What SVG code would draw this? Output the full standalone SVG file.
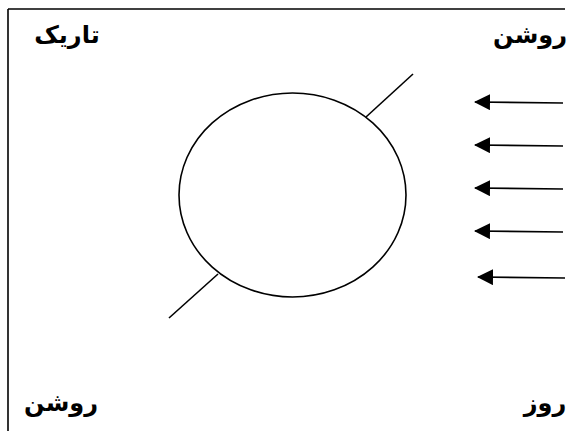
<svg xmlns="http://www.w3.org/2000/svg" width="572" height="431" viewBox="0 0 572 431">
<style>
.lbl{font-family:"DejaVu Sans","Noto Sans",sans-serif;font-weight:bold;font-size:24px;fill:#000;}
.ln{stroke:#000;stroke-width:1.6;fill:none;}
</style>
<defs>
<marker id="ah" markerWidth="16" markerHeight="16" refX="15" refY="8" orient="auto" markerUnits="userSpaceOnUse">
<path d="M0,0 L16,8 L0,16 Z" fill="#000"/>
</marker>
</defs>
<rect x="0" y="0" width="572" height="431" fill="#fff"/>
<g id="frame">
<line class="ln" x1="8" y1="9" x2="565" y2="9" stroke-width="2"/>
<line class="ln" x1="8" y1="9" x2="8" y2="431" stroke-width="2"/>
</g>
<g id="earth">
<ellipse class="ln" cx="292.5" cy="195" rx="113.5" ry="102"/>
</g>
<g id="axis">
<line class="ln" x1="366" y1="117" x2="413" y2="74"/>
<line class="ln" x1="218" y1="274" x2="169" y2="318"/>
</g>
<g id="connectors">
<line class="ln" x1="563" y1="103" x2="475" y2="102" marker-end="url(#ah)"/>
<line class="ln" x1="563" y1="146" x2="475" y2="145" marker-end="url(#ah)"/>
<line class="ln" x1="563" y1="189" x2="475" y2="188" marker-end="url(#ah)"/>
<line class="ln" x1="563" y1="232" x2="475" y2="231" marker-end="url(#ah)"/>
<line class="ln" x1="565" y1="278" x2="478" y2="277" marker-end="url(#ah)"/>
</g>
<g id="label-tarik"><text class="lbl" x="67" y="43" text-anchor="middle" direction="rtl">تاریک</text></g>
<g id="label-roshan-top"><text class="lbl" x="530" y="43" text-anchor="middle" direction="rtl">روشن</text></g>
<g id="label-roshan-bottom"><text class="lbl" x="61" y="411" text-anchor="middle" direction="rtl">روشن</text></g>
<g id="label-rooz"><text class="lbl" x="545" y="411" text-anchor="middle" direction="rtl">روز</text></g>
</svg>
